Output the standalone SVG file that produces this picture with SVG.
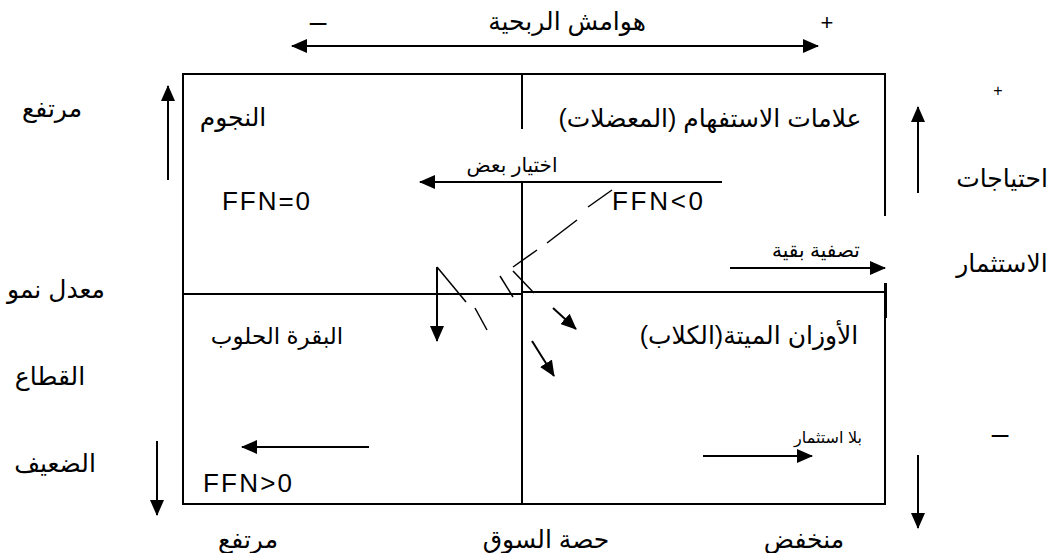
<svg xmlns="http://www.w3.org/2000/svg" width="1054" height="553" viewBox="0 0 1054 553">
  <defs>
    <marker id="head" viewBox="0 0 16 14" refX="15" refY="7" markerWidth="16" markerHeight="14" markerUnits="userSpaceOnUse" orient="auto-start-reverse">
      <path d="M0,0 L16,7 L0,14 z" fill="#000"/>
    </marker>
    <style>
      .frame { fill: none; stroke: #000; stroke-width: 2; }
      .arrow { fill: none; stroke: #000; stroke-width: 2; marker-end: url(#head); }
      .dash { fill: none; stroke: #000; stroke-width: 1.5; }
      .t { font-family: "Liberation Sans", "DejaVu Sans", sans-serif; fill: #000; text-anchor: middle; }
      .big { font-size: 25px; }
      .mid { font-size: 23px; }
      .small { font-size: 20px; }
      .tiny { font-size: 16px; }
      .sign { font-size: 30px; }
      .plus { font-size: 22px; }
      .ffn { font-family: "Liberation Sans", Arial, sans-serif; font-size: 26px; fill: #000; }
    </style>
  </defs>

  <rect width="1054" height="553" fill="#fff"/>

  <!-- matrix frame with the opening on the right edge -->
  <g id="matrix">
    <path class="frame" d="M885,216 V74 H183 V504 H885 V283"/>
    <line x1="885.5" y1="283" x2="885.5" y2="318" stroke="#000" stroke-width="3"/>
    <line class="frame" x1="522" y1="74" x2="522" y2="129"/>
    <line class="frame" x1="522" y1="183" x2="522" y2="504"/>
    <line class="frame" x1="183" y1="294" x2="522" y2="294"/>
    <line class="frame" x1="522" y1="292" x2="885" y2="292"/>
  </g>

  <!-- quadrants -->
  <g id="stars">
    <text class="t big" x="233" y="126">النجوم</text>
    <text class="ffn" x="222" y="210" textLength="88" lengthAdjust="spacing">FFN=0</text>
  </g>
  <g id="question-marks">
    <text class="t big" x="710" y="127">علامات الاستفهام (المعضلات)</text>
    <text class="ffn" x="612" y="210" textLength="91" lengthAdjust="spacing">FFN&lt;0</text>
  </g>
  <g id="cash-cows">
    <text class="t mid" x="277" y="344">البقرة الحلوب</text>
    <text class="ffn" x="203" y="492" textLength="89" lengthAdjust="spacing">FFN&gt;0</text>
  </g>
  <g id="dogs">
    <text class="t big" x="749" y="344">الأوزان الميتة(الكلاب)</text>
  </g>

  <!-- axis labels -->
  <g id="margin-axis">
    <text class="t big" x="567" y="30">هوامش الربحية</text>
    <text class="t sign" x="318" y="32">–</text>
    <text class="t plus" x="827" y="30">+</text>
  </g>
  <g id="growth-axis">
    <text class="t big" x="52" y="117">مرتفع</text>
    <text class="t big" x="56" y="298">معدل نمو</text>
    <text class="t big" x="50" y="385">القطاع</text>
    <text class="t big" x="55" y="472">الضعيف</text>
  </g>
  <g id="investment-axis">
    <text class="t tiny" x="998" y="96">+</text>
    <text class="t big" x="1002" y="187">احتياجات</text>
    <text class="t big" x="1002" y="272">الاستثمار</text>
    <text class="t sign" x="1000" y="444">–</text>
  </g>
  <g id="share-axis">
    <text class="t big" x="248" y="548">مرتفع</text>
    <text class="t big" x="546" y="548">حصة السوق</text>
    <text class="t big" x="804" y="548">منخفض</text>
  </g>

  <!-- connectors -->
  <g id="connectors">
    <line class="arrow" x1="555" y1="46" x2="818" y2="46"/>
    <line class="arrow" x1="555" y1="46" x2="292" y2="46"/>
    <line class="arrow" x1="168" y1="180" x2="168" y2="86"/>
    <line class="arrow" x1="157" y1="441" x2="157" y2="515"/>
    <line class="arrow" x1="918" y1="193" x2="918" y2="107"/>
    <line class="arrow" x1="918" y1="455" x2="918" y2="528"/>

    <line class="arrow" x1="722" y1="182" x2="420" y2="182"/>
    <text class="t small" x="512" y="172">اختيار بعض</text>

    <line class="arrow" x1="730" y1="268" x2="885" y2="268"/>
    <text class="t small" x="816" y="257">تصفية بقية</text>

    <line class="arrow" x1="703" y1="456" x2="812" y2="456"/>
    <text class="t tiny" x="828" y="443">بلا استثمار</text>

    <line class="arrow" x1="369" y1="447" x2="242" y2="447"/>

    <line class="arrow" x1="437" y1="267" x2="437" y2="341"/>
    <line class="arrow" x1="553" y1="308" x2="576" y2="329"/>
    <line class="arrow" x1="532" y1="341" x2="554" y2="376"/>

    <!-- dashed trajectory -->
    <line class="dash" x1="612" y1="190" x2="588" y2="207"/>
    <line class="dash" x1="577" y1="220" x2="547" y2="243"/>
    <line class="dash" x1="537" y1="250" x2="513" y2="267"/>
    <line class="dash" x1="513" y1="271" x2="534" y2="293"/>
    <line class="dash" x1="500" y1="276" x2="513" y2="297"/>
    <line class="dash" x1="437" y1="267" x2="466" y2="302"/>
    <line class="dash" x1="475" y1="308" x2="487" y2="330"/>
  </g>
</svg>
